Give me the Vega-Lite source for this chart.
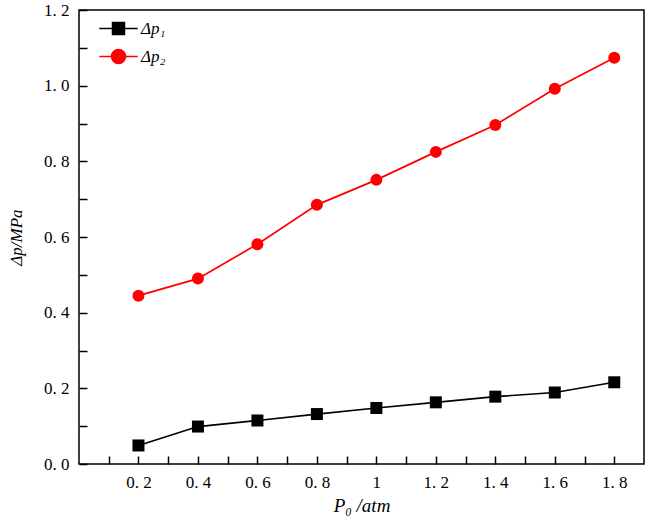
{
  "$schema": "https://vega.github.io/schema/vega-lite/v6.json",
  "width": 565,
  "height": 454,
  "autosize": {"type": "none"},
  "padding": {"left": 79, "top": 10, "right": 2, "bottom": 63},
  "background": "white",
  "config": {
    "view": {"stroke": "black", "strokeWidth": 1.5},
    "axis": {
      "labelFont": "Liberation Serif",
      "labelFontSize": 17,
      "labelColor": "black",
      "titleFont": "Liberation Serif",
      "titleFontStyle": "italic",
      "titleFontWeight": "normal",
      "titleColor": "black",
      "domain": false,
      "tickColor": "black",
      "tickWidth": 1.5,
      "grid": false,
      "labelOverlap": false
    },
    "legend": {
      "labelFont": "Liberation Serif",
      "labelFontSize": 17,
      "labelFontStyle": "italic",
      "labelColor": "black"
    }
  },
  "data": {
    "values": [
      {"P0": 0.2, "dp": 0.049, "series": "Δp₁"},
      {"P0": 0.4, "dp": 0.099, "series": "Δp₁"},
      {"P0": 0.6, "dp": 0.115, "series": "Δp₁"},
      {"P0": 0.8, "dp": 0.132, "series": "Δp₁"},
      {"P0": 1.0, "dp": 0.148, "series": "Δp₁"},
      {"P0": 1.2, "dp": 0.163, "series": "Δp₁"},
      {"P0": 1.4, "dp": 0.178, "series": "Δp₁"},
      {"P0": 1.6, "dp": 0.189, "series": "Δp₁"},
      {"P0": 1.8, "dp": 0.216, "series": "Δp₁"},
      {"P0": 0.2, "dp": 0.445, "series": "Δp₂"},
      {"P0": 0.4, "dp": 0.490, "series": "Δp₂"},
      {"P0": 0.6, "dp": 0.581, "series": "Δp₂"},
      {"P0": 0.8, "dp": 0.685, "series": "Δp₂"},
      {"P0": 1.0, "dp": 0.751, "series": "Δp₂"},
      {"P0": 1.2, "dp": 0.825, "series": "Δp₂"},
      {"P0": 1.4, "dp": 0.896, "series": "Δp₂"},
      {"P0": 1.6, "dp": 0.992, "series": "Δp₂"},
      {"P0": 1.8, "dp": 1.074, "series": "Δp₂"}
    ]
  },
  "layer": [
    {
      "mark": {"type": "line", "strokeWidth": 1.7},
      "encoding": {
        "x": {"field": "P0", "type": "quantitative", "scale": {"domain": [0, 1.9], "nice": false, "zero": false}},
        "y": {"field": "dp", "type": "quantitative", "scale": {"domain": [0, 1.2], "nice": false}},
        "detail": {"field": "series", "type": "nominal"},
        "color": {"condition": {"test": "datum.series == 'Δp₁'", "value": "#000000"}, "value": "#ff0000"}
      }
    },
    {
      "mark": {"type": "point", "filled": true, "size": 144, "opacity": 1},
      "encoding": {
        "x": {
          "field": "P0", "type": "quantitative",
          "scale": {"domain": [0, 1.9], "nice": false, "zero": false},
          "axis": {
            "orient": "bottom",
            "offset": -8,
            "values": [0.1, 0.2, 0.3, 0.4, 0.5, 0.6, 0.7, 0.8, 0.9, 1.0, 1.1, 1.2, 1.3, 1.4, 1.5, 1.6, 1.7, 1.8],
            "tickCount": 60,
            "labelExpr": "round(datum.value * 10) % 2 == 0 ? replace(format(datum.value, '~g'), '.', '. ') : ''",
            "labelOverlap": false,
            "tickSize": 8,
            "labelPadding": 10,
            "encode": {"ticks": {"y": {"condition": {"test": "round(datum.value * 10) % 2 == 1", "value": 4}, "value": 0}}},
            "title": "P₀ /atm",
            "titleFontSize": 19,
            "titlePadding": 6
          }
        },
        "y": {
          "field": "dp", "type": "quantitative",
          "scale": {"domain": [0, 1.2], "nice": false},
          "axis": {
            "orient": "left",
            "offset": -8,
            "values": [0, 0.1, 0.2, 0.3, 0.4, 0.5, 0.6, 0.7, 0.8, 0.9, 1.0, 1.1, 1.2],
            "tickCount": 60,
            "labelExpr": "round(datum.value * 10) % 2 == 0 ? replace(format(datum.value, '.1f'), '.', '. ') : ''",
            "labelOverlap": false,
            "tickSize": 8,
            "labelPadding": 10,
            "encode": {"ticks": {"x": {"condition": {"test": "round(datum.value * 10) % 2 == 1", "value": -4}, "value": 0}}},
            "title": "Δp/MPa",
            "titleFontSize": 17,
            "titlePadding": 18
          }
        },
        "color": {"condition": {"test": "datum.series == 'Δp₁'", "value": "#000000"}, "value": "#ff0000"},
        "shape": {"condition": {"test": "datum.series == 'Δp₁'", "value": "square"}, "value": "circle"}
      }
    },
    {
      "transform": [{"filter": "datum.P0 < 0"}],
      "mark": {"type": "point", "filled": true, "size": 144, "opacity": 1, "strokeWidth": 1.7},
      "encoding": {
        "x": {"field": "P0", "type": "quantitative", "scale": {"domain": [0, 1.9], "nice": false, "zero": false}},
        "y": {"field": "dp", "type": "quantitative", "scale": {"domain": [0, 1.2], "nice": false}},
        "color": {
          "field": "series", "type": "nominal",
          "scale": {"domain": ["Δp₁", "Δp₂"], "range": ["#000000", "#ff0000"]},
          "legend": {"title": null, "orient": "top-left", "offset": 10, "symbolSize": 144, "symbolOffset": 21, "labelOffset": 14, "rowPadding": 8}
        },
        "stroke": {
          "field": "series", "type": "nominal",
          "scale": {"domain": ["Δp₁", "Δp₂"], "range": ["#000000", "#ff0000"]},
          "legend": {"title": null, "orient": "top-left", "offset": 10, "symbolSize": 144, "symbolOffset": 21, "labelOffset": 14, "rowPadding": 8}
        },
        "shape": {
          "field": "series", "type": "nominal",
          "scale": {
            "domain": ["Δp₁", "Δp₂"],
            "range": [
              "M-3.2,0H-1M1,0H3.2M-1,-1H1V1H-1Z",
              "M-3.2,0H-1.17M1.17,0H3.2M-1.17,0A1.17,1.17,0,1,0,1.17,0A1.17,1.17,0,1,0,-1.17,0Z"
            ]
          },
          "legend": {"title": null, "orient": "top-left", "offset": 10, "symbolSize": 144, "symbolOffset": 21, "labelOffset": 14, "rowPadding": 8}
        }
      }
    }
  ]
}
